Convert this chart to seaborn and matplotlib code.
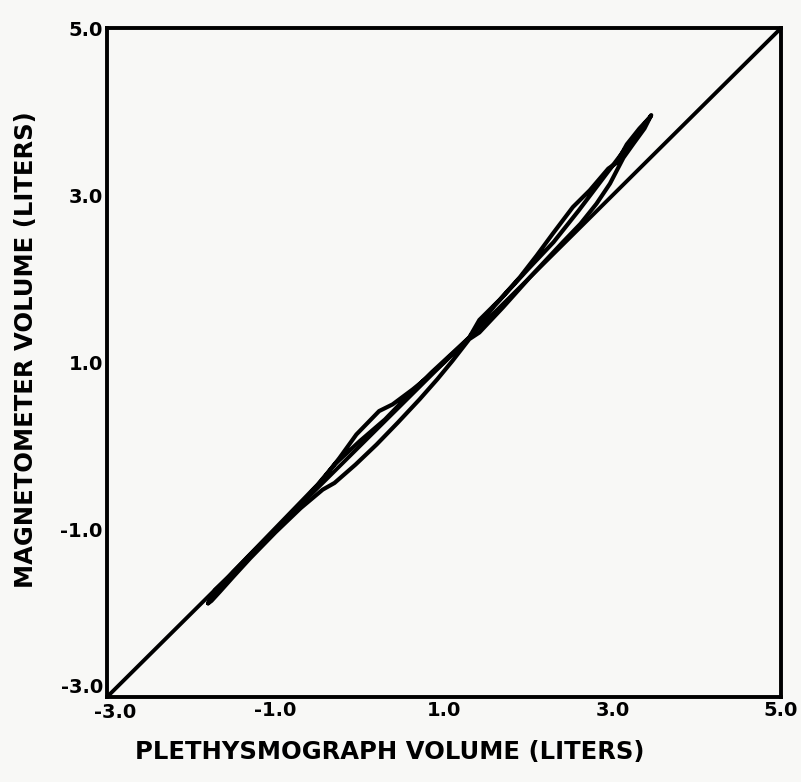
import pandas as pd
import matplotlib.pyplot as plt
import matplotlib.transforms as mtransforms
import seaborn as sns
import numpy as np

# identity reference line (magnetometer = plethysmograph)
ident_x = [-3.0, 5.0]
ident_y = [-3.0, 5.0]

# traced loop (liters), in drawing order
loop_x = [-1.80, -1.72, -1.55, -1.20, -0.90, -0.60, -0.44, -0.24, -0.04, 0.23, 0.39, 0.63, 0.80, 1.00, 1.30,
          1.42, 1.66, 1.90, 2.10, 2.29, 2.53, 2.73, 2.95, 3.05, 3.17, 3.32, 3.44,
          3.46, 3.38, 3.25, 3.13, 2.97, 2.81, 2.62, 2.41, 2.02, 1.70, 1.42, 1.30, 1.10, 0.92, 0.71, 0.45,
          0.20, -0.05, -0.30, -0.44, -0.70, -1.00, -1.30, -1.50, -1.66, -1.76, -1.80,
          -1.76, -1.50, -1.00, -0.50, -0.30, 0.00, 0.30, 0.55, 0.85, 1.30, 1.60, 2.00, 2.30, 2.60,
          2.90, 3.20, 3.40, 3.45]
loop_y = [-1.88, -1.72, -1.56, -1.20, -0.90, -0.58, -0.40, -0.14, 0.14, 0.42, 0.50, 0.68, 0.82, 1.00, 1.30,
          1.51, 1.75, 2.02, 2.28, 2.54, 2.86, 3.06, 3.32, 3.39, 3.61, 3.80, 3.93,
          3.96, 3.80, 3.62, 3.45, 3.14, 2.90, 2.66, 2.44, 2.02, 1.66, 1.36, 1.28, 1.02, 0.80, 0.56, 0.28,
          0.02, -0.22, -0.44, -0.52, -0.74, -1.03, -1.34, -1.56, -1.74, -1.85, -1.88,
          -1.80, -1.50, -0.98, -0.46, -0.22, 0.06, 0.32, 0.58, 0.88, 1.30, 1.68, 2.12, 2.44, 2.82,
          3.22, 3.62, 3.88, 3.94]

ticks = [-3.0, -1.0, 1.0, 3.0, 5.0]
tick_labels = ['-3.0', '-1.0', '1.0', '3.0', '5.0']

sns.set_style("white")
plt.rcParams['font.family'] = ['DejaVu Sans']

fig = plt.figure(figsize=(8.01, 7.82), dpi=100, facecolor='#f8f8f6')
ax = fig.add_axes([0.1336, 0.1087, 0.8414, 0.8553])
ax.set_facecolor('#f8f8f6')

sns.lineplot(x=ident_x, y=ident_y, ax=ax, color='black', linewidth=2.8)
loop = pd.DataFrame({'x': loop_x, 'y': loop_y})
sns.lineplot(data=loop, x='x', y='y', ax=ax, sort=False, estimator=None,
             color='black', linewidth=3.0, solid_capstyle='round', solid_joinstyle='round')

ax.set_xlim(-3, 5)
ax.set_ylim(-3, 5)
ax.set_xticks(ticks)
ax.set_yticks(ticks)
ax.set_xticklabels(tick_labels, fontsize=14, fontweight='bold')
ax.set_yticklabels(tick_labels, fontsize=14, fontweight='bold')
ax.tick_params(direction='in', length=10, width=2.5, pad=3, colors='black')

# corner labels are staggered in the original so they don't collide
lbl = ax.get_yticklabels()[0]
lbl.set_transform(lbl.get_transform() + mtransforms.ScaledTranslation(0, 8 / 72, fig.dpi_scale_trans))
lbl = ax.get_xticklabels()[0]
lbl.set_transform(lbl.get_transform() + mtransforms.ScaledTranslation(6 / 72, -1 / 72, fig.dpi_scale_trans))

for s in ax.spines.values():
    s.set_linewidth(2.8)
    s.set_color('black')

ax.set_xlabel('PLETHYSMOGRAPH VOLUME (LITERS)', fontsize=17.5, fontweight='bold', color='black')
ax.set_ylabel('MAGNETOMETER VOLUME (LITERS)', fontsize=17.5, fontweight='bold', color='black')
ax.xaxis.set_label_coords(0.42, -0.065)
ax.yaxis.set_label_coords(-0.102, 0.52)

fig.savefig('out.png', dpi=100, facecolor=fig.get_facecolor())
